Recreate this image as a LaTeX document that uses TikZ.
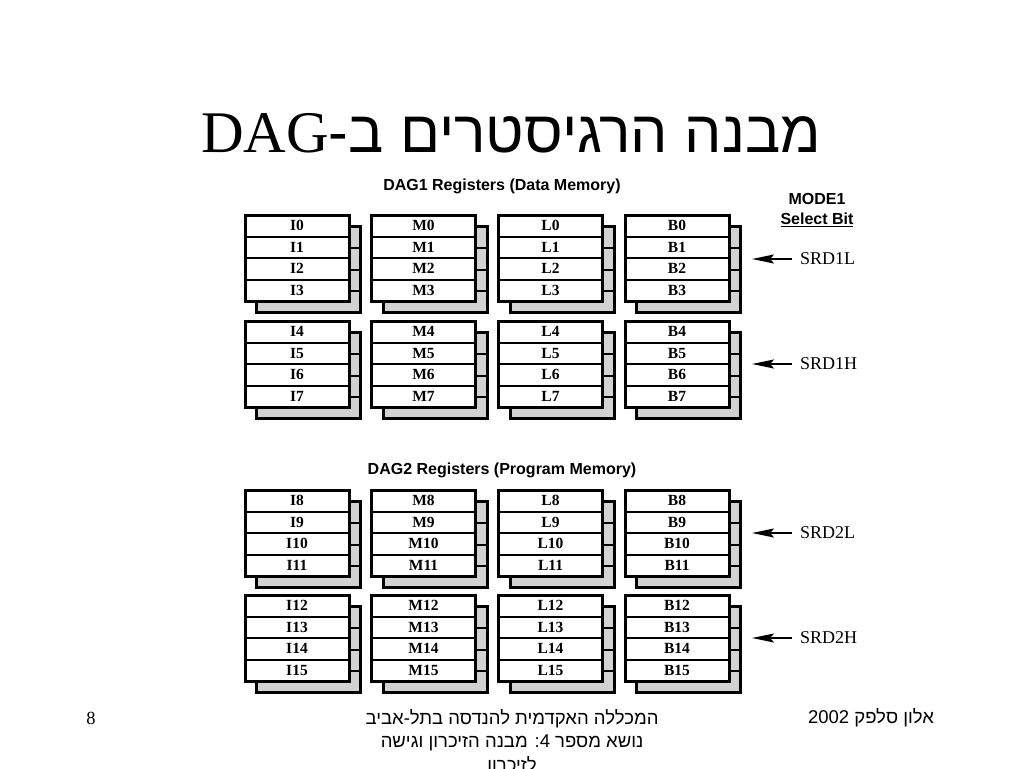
\documentclass[tikz,border=0pt]{standalone}
\usepackage{fontspec}
\setmainfont{Liberation Serif}
\newfontfamily\hebfont[Script=Hebrew]{Liberation Sans}
\newfontfamily\arialfont{Liberation Sans}
\TeXXeTstate=1
\usetikzlibrary{arrows.meta}
\definecolor{shadowgray}{RGB}{210,210,210}
\tikzset{
  cell/.style={draw=black, line width=2pt, fill=white, minimum width=104pt, minimum height=21.5pt,
    inner sep=0pt, font=\bfseries\fontsize{15.5}{16}\selectfont},
  frontframe/.style={draw=black, line width=3pt},
  shadowbox/.style={draw=black, line width=3pt, fill=shadowgray},
  shadowline/.style={draw=black, line width=2pt},
  srdlabel/.style={anchor=west, inner sep=0pt, font=\fontsize{18}{20}\selectfont},
  srdarrow/.style={line width=2pt, -{Stealth[length=22pt,width=9pt,inset=4pt]}},
  header/.style={font=\arialfont\bfseries\fontsize{16}{19}\selectfont, inner sep=0pt},
  foot/.style={font=\hebfont\fontsize{18.5}{23.5}\selectfont, inner sep=0pt}
}
\begin{document}
\begin{tikzpicture}[x=1pt,y=-1pt]
\useasboundingbox (0,0) rectangle (1024,768);
\fill[white] (0,0) rectangle (1024,768);

% title
\node[inner sep=0pt, font=\fontsize{59}{64}\selectfont] (title) at (511,133)
  {\beginR{\hebfont מבנה הרגיסטרים ב-}\beginL DAG\endL\endR};

% headers
\node[header] (hdr1) at (502,186) {DAG1 Registers (Data Memory)};
\node[header] (hdr2) at (502,470) {DAG2 Registers (Program Memory)};
\node[header, align=center] (mode) at (817,210) {MODE1\\[1pt]\underline{Select Bit}};

% register blocks
\foreach \g/\T in {0/215,1/321,2/490,3/595}{
  \foreach \X/\L in {245/I,371.5/M,498.5/L,625/B}{
    \draw[shadowbox] (\X+11.5,\T+11.5) rectangle ++(104,86);
    \foreach \r in {1,2,3}{
      \draw[shadowline] (\X+11.5,\T+11.5+21.5*\r) -- ++(104,0);
    }
    \foreach \r in {0,1,2,3}{
      \pgfmathtruncatemacro{\n}{4*\g+\r}
      \node[cell] (reg\L\n) at (\X+52,\T+10.75+21.5*\r) {\L\n};
    }
    \draw[frontframe] (\X,\T) rectangle ++(104,86);
  }
}

% mode select labels and arrows
\node[srdlabel] (srd1l) at (800,259) {SRD1L};
\node[srdlabel] (srd1h) at (800,364) {SRD1H};
\node[srdlabel] (srd2l) at (800,533) {SRD2L};
\node[srdlabel] (srd2h) at (800,638) {SRD2H};
\coordinate (t1) at (752,259);
\coordinate (t2) at (752,364);
\coordinate (t3) at (752,533);
\coordinate (t4) at (752,638);
\draw[srdarrow] ([xshift=-8pt]srd1l.west) -- (t1);
\draw[srdarrow] ([xshift=-8pt]srd1h.west) -- (t2);
\draw[srdarrow] ([xshift=-8pt]srd2l.west) -- (t3);
\draw[srdarrow] ([xshift=-8pt]srd2h.west) -- (t4);

% footer
\node[inner sep=0pt, font=\fontsize{18.5}{20}\selectfont] (pagenum) at (91,718) {8};
\node[foot, align=center, anchor=north] (footc) at (512,709)
  {\beginR המכללה האקדמית להנדסה בתל-אביב\endR\\
   \beginR נושא מספר \beginL 4\endL: מבנה הזיכרון וגישה\endR\\
   \beginR לזיכרון\endR};
\node[foot] (footr) at (871,718) {\beginR אלון סלפק \beginL 2002\endL\endR};
\end{tikzpicture}
\end{document}
